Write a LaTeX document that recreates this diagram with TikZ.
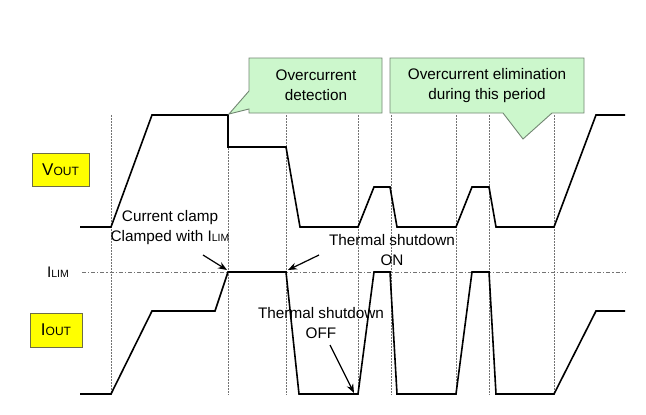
\documentclass[tikz,border=0pt]{standalone}
\usepackage{fontspec}
\setmainfont{Liberation Sans}
\usetikzlibrary{arrows.meta}
\definecolor{callg}{RGB}{204,247,204}
\definecolor{callb}{RGB}{115,135,115}
\definecolor{ylw}{RGB}{255,255,0}
\definecolor{ylwb}{RGB}{110,110,70}
\newcommand{\smsub}[1]{{\fontsize{10.5}{10.5}\selectfont #1}}
\newcommand{\bigsub}[1]{{\fontsize{12}{12}\selectfont #1}}
\begin{document}
\begin{tikzpicture}[x=1pt,y=-1pt,
  font=\fontsize{15.3}{20}\selectfont,
  wave/.style={line width=1.6pt, line join=miter},
  guide/.style={black!55, line width=1pt, dash pattern=on 1.5pt off 1.5pt},
  limline/.style={black!55, line width=1pt, dash pattern=on 4pt off 2pt on 1.2pt off 2pt},
  callout/.style={fill=callg, draw=callb, line width=0.9pt},
  sigbox/.style={fill=ylw, draw=ylwb, line width=0.9pt, inner sep=0pt, font=\fontsize{17}{20}\selectfont},
  note/.style={align=center, inner sep=0pt},
  pointer/.style={-{Stealth[length=9pt,width=7pt]}, line width=1.2pt}]
\useasboundingbox[fill=white] (0,0) rectangle (646,415);

% guides
\foreach \gx in {111,228,286,358,391,456,489,554}
  \draw[guide] (\gx,115) -- (\gx,395);
% ILIM level
\draw[limline] (82,272) -- (625,272);

% VOUT waveform
\draw[wave] (80,227) -- (111,227) -- (152,115) -- (228,115) -- (228,147) -- (286,147)
  -- (300,227) -- (358,227) -- (374,187) -- (390,187) -- (397,227) -- (456,227)
  -- (472,187) -- (489,187) -- (496,227) -- (554,227) -- (596,115) -- (625,115);
% IOUT waveform
\draw[wave] (80,394) -- (111,394) -- (152,311) -- (215,311) -- (228,272) -- (286,272)
  -- (299,394) -- (358,394) -- (374,272) -- (390,272) -- (397,394) -- (456,394)
  -- (472,272) -- (489,272) -- (496,394) -- (554,394) -- (596,311) -- (625,311);

% signal labels
\node[sigbox, minimum width=57pt, minimum height=33pt] (vout) at (60.5,169.5) {V\bigsub{OUT}};
\node[sigbox, minimum width=52pt, minimum height=34pt] (iout) at (56,330) {I\bigsub{OUT}};
\node[inner sep=0pt] (ilim) at (58,272) {I\smsub{LIM}};

% callouts
\draw[callout] (249,58) -- (382,58) -- (382,113) -- (249,113) -- (249,109) -- (229,114) -- (249,91) -- cycle;
\node[note] (det) at (316,85) {Overcurrent\\detection};
\draw[callout] (390,58) -- (584,58) -- (584,113) -- (552,113) -- (523,139) -- (503,113) -- (390,113) -- cycle;
\node[note] (elim) at (487,85.5) {Overcurrent elimination\\during this period};

% annotations
\node[note] (clamp) at (170,228) {Current clamp\\Clamped with I\smsub{LIM}};
\node[note] (tson) at (392,250) {Thermal shutdown\\ON};
\node[note] (tsoff) at (321,323) {Thermal shutdown\\OFF};

\coordinate (a1s) at (203,255); \coordinate (a1e) at (227,270);
\coordinate (a2s) at (319,255); \coordinate (a2e) at (288,270);
\coordinate (a3s) at (330,345); \coordinate (a3e) at (354,393);
\draw[pointer] (a1s) -- (a1e);
\draw[pointer] (a2s) -- (a2e);
\draw[pointer] (a3s) -- (a3e);
\end{tikzpicture}
\end{document}
